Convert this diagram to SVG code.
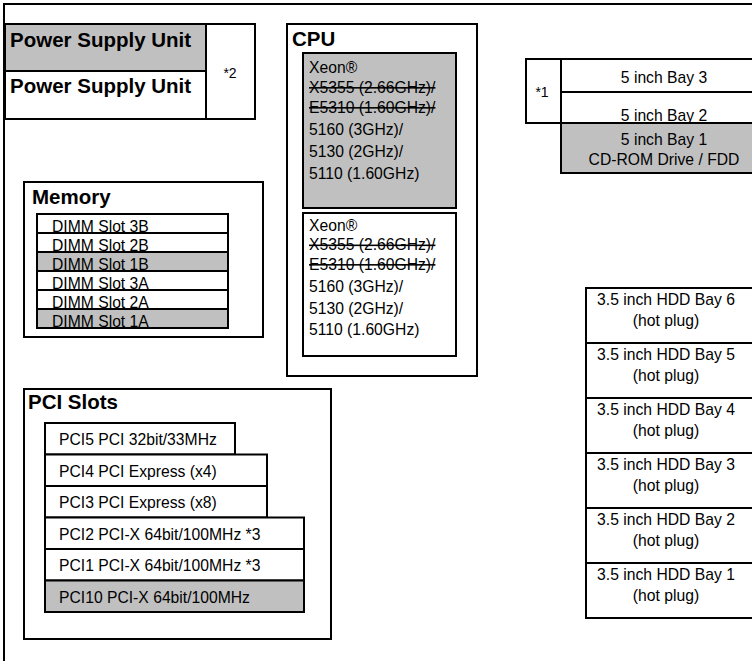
<svg xmlns="http://www.w3.org/2000/svg" width="752" height="661" viewBox="0 0 752 661">
<style>
.b{fill:#fff;stroke:#000;stroke-width:2}
.g{fill:#c0c0c0;stroke:#000;stroke-width:2}
.t{font-family:"Liberation Sans",Arial,sans-serif;font-size:15.7px;fill:#000}
.h{font-family:"Liberation Sans",Arial,sans-serif;font-size:20.5px;font-weight:bold;fill:#000}
.c{text-anchor:middle}
.s{text-decoration:line-through}
.n{font-size:14px}
</style>
<rect x="0" y="0" width="752" height="661" fill="#fff"/>
<path d="M4,661 V4 H752" fill="none" stroke="#000" stroke-width="2"/>

<g id="psu">
<rect class="b" x="5" y="24" width="250" height="95"/>
<rect class="g" x="5" y="24" width="201" height="47"/>
<rect class="b" x="5" y="71" width="201" height="48"/>
<text class="h" x="10" y="47">Power Supply Unit</text>
<text class="h" x="10" y="93">Power Supply Unit</text>
<text class="t n c" x="230" y="78">*2</text>
</g>

<g id="cpu">
<rect class="b" x="287" y="24" width="190" height="352"/>
<text class="h" x="292" y="46">CPU</text>
<rect class="g" x="303" y="53" width="153" height="155"/>
<text class="t" x="309" y="72.5">Xeon®</text>
<text class="t s" x="309" y="92.5">X5355 (2.66GHz)/</text>
<text class="t s" x="309" y="112.5">E5310 (1.60GHz)/</text>
<text class="t" x="309" y="134.5">5160 (3GHz)/</text>
<text class="t" x="309" y="157">5130 (2GHz)/</text>
<text class="t" x="309" y="178.5">5110 (1.60GHz)</text>
<rect class="b" x="303" y="213" width="153" height="143"/>
<text class="t" x="309" y="230.5">Xeon®</text>
<text class="t s" x="309" y="250">X5355 (2.66GHz)/</text>
<text class="t s" x="309" y="269.5">E5310 (1.60GHz)/</text>
<text class="t" x="309" y="292">5160 (3GHz)/</text>
<text class="t" x="309" y="313.5">5130 (2GHz)/</text>
<text class="t" x="309" y="335">5110 (1.60GHz)</text>
</g>

<g id="bays525">
<rect class="b" x="526" y="59" width="35" height="64"/>
<text class="t n c" x="542" y="97">*1</text>
<rect class="b" x="561" y="59" width="200" height="33"/>
<text class="t c" x="664" y="82.5">5 inch Bay 3</text>
<rect class="b" x="561" y="92" width="200" height="31"/>
<text class="t c" x="664" y="121">5 inch Bay 2</text>
<rect class="g" x="561" y="123" width="200" height="50"/>
<text class="t c" x="664" y="145">5 inch Bay 1</text>
<text class="t c" x="664" y="165">CD-ROM Drive / FDD</text>
</g>

<g id="memory">
<rect class="b" x="24" y="182" width="239" height="155"/>
<text class="h" x="32" y="204">Memory</text>
<rect class="b" x="37" y="214" width="191" height="19"/>
<rect class="b" x="37" y="233" width="191" height="19"/>
<rect class="g" x="37" y="252" width="191" height="19"/>
<rect class="b" x="37" y="271" width="191" height="19"/>
<rect class="b" x="37" y="290" width="191" height="19"/>
<rect class="g" x="37" y="309" width="191" height="19"/>
<text class="t" x="52" y="232">DIMM Slot 3B</text>
<text class="t" x="52" y="250.5">DIMM Slot 2B</text>
<text class="t" x="52" y="269.5">DIMM Slot 1B</text>
<text class="t" x="52" y="288.5">DIMM Slot 3A</text>
<text class="t" x="52" y="307.5">DIMM Slot 2A</text>
<text class="t" x="52" y="326.5">DIMM Slot 1A</text>
</g>

<g id="pci">
<rect class="b" x="24" y="389" width="307" height="250"/>
<text class="h" x="28" y="409">PCI Slots</text>
<rect class="b" x="45" y="423" width="190" height="31.5"/>
<rect class="b" x="45" y="454.5" width="222" height="31.5"/>
<rect class="b" x="45" y="486" width="222" height="31.5"/>
<rect class="b" x="45" y="517.5" width="259" height="31.5"/>
<rect class="b" x="45" y="549" width="259" height="31.5"/>
<rect class="g" x="45" y="580.5" width="259" height="31.5"/>
<text class="t" x="59" y="445">PCI5 PCI 32bit/33MHz</text>
<text class="t" x="59" y="476.5">PCI4 PCI Express (x4)</text>
<text class="t" x="59" y="508">PCI3 PCI Express (x8)</text>
<text class="t" x="59" y="539.5">PCI2 PCI-X 64bit/100MHz *3</text>
<text class="t" x="59" y="571">PCI1 PCI-X 64bit/100MHz *3</text>
<text class="t" x="59" y="602.5">PCI10 PCI-X 64bit/100MHz</text>
</g>

<g id="hdd">
<rect class="b" x="586" y="288" width="180" height="55"/>
<rect class="b" x="586" y="343" width="180" height="55"/>
<rect class="b" x="586" y="398" width="180" height="55"/>
<rect class="b" x="586" y="453" width="180" height="55"/>
<rect class="b" x="586" y="508" width="180" height="55"/>
<rect class="b" x="586" y="563" width="180" height="55"/>
<text class="t c" x="666" y="305">3.5 inch HDD Bay 6</text>
<text class="t c" x="666" y="325.5">(hot plug)</text>
<text class="t c" x="666" y="360">3.5 inch HDD Bay 5</text>
<text class="t c" x="666" y="380.5">(hot plug)</text>
<text class="t c" x="666" y="415">3.5 inch HDD Bay 4</text>
<text class="t c" x="666" y="435.5">(hot plug)</text>
<text class="t c" x="666" y="470">3.5 inch HDD Bay 3</text>
<text class="t c" x="666" y="490.5">(hot plug)</text>
<text class="t c" x="666" y="525">3.5 inch HDD Bay 2</text>
<text class="t c" x="666" y="545.5">(hot plug)</text>
<text class="t c" x="666" y="580">3.5 inch HDD Bay 1</text>
<text class="t c" x="666" y="600.5">(hot plug)</text>
</g>
<g id="connectors"/>
</svg>
